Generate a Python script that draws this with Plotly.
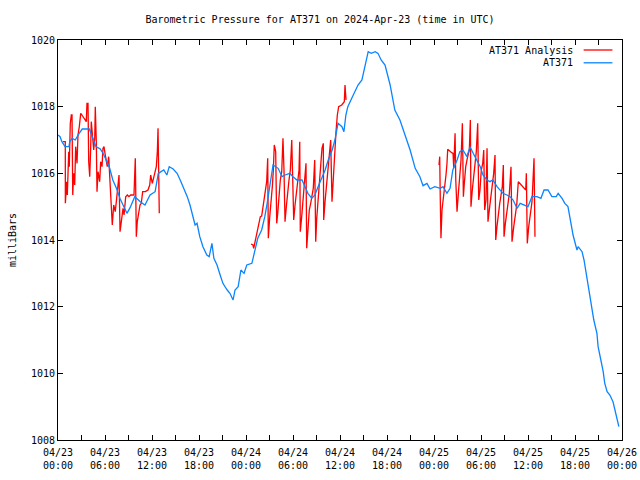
import pandas as pd
import plotly.graph_objects as go

START = "2024-04-23 00:00"
END = "2024-04-26 00:00"
TITLE = "Barometric Pressure for AT371 on 2024-Apr-23 (time in UTC)"
Y_TITLE = "milliBars"
NAME_ANALYSIS = "AT371 Analysis"
NAME_OBS = "AT371"

# Observed pressure (hours since START, mb)
obs_hours = [0.0, 0.26, 0.5, 0.9, 1.4, 1.5, 1.8, 2.2, 2.7, 3.1, 4.0, 4.2, 4.5, 4.85, 5.4,
             5.75, 6.25, 6.6, 7.0, 7.5, 7.9, 8.3, 8.8, 9.2, 9.8, 10.5, 11.1, 11.75, 12.4,
             12.8, 13.5, 13.9, 14.2, 14.7, 15.2, 15.6, 16.0, 16.5, 16.85, 17.2, 17.5,
             17.75, 18.1, 18.5, 19.0, 19.3, 19.65, 19.9, 20.3, 20.7, 21.05, 21.6, 21.95,
             22.35, 22.6, 23.0, 23.35, 23.75, 24.1, 24.75, 25.15, 25.5, 26.0, 26.4, 26.7,
             27.05, 27.45, 28.1, 28.6, 29.0, 29.6, 30.0, 30.5, 31.15, 31.5, 31.9, 32.4,
             32.8, 33.2, 33.7, 34.1, 34.5, 35.0, 35.35, 35.75, 36.25, 36.5, 36.75, 37.0,
             37.5, 37.9, 38.3, 38.8, 39.2, 39.6, 40.0, 40.5, 40.85, 41.25, 41.75, 42.4,
             43.0, 43.65, 44.3, 44.95, 45.6, 46.2, 46.6, 47.1, 47.5, 48.1, 48.8, 49.15,
             49.65, 50.05, 50.4, 50.95, 51.3, 51.7, 52.2, 52.6, 53.0, 53.5, 53.9, 54.25,
             54.75, 55.15, 55.5, 56.05, 56.4, 56.8, 57.3, 57.7, 58.1, 58.6, 59.0, 59.6,
             60.0, 60.5, 61.15, 61.65, 62.05, 62.55, 63.05, 63.6, 63.85, 64.35, 64.7,
             65.1, 65.35, 65.6, 65.75, 66.0, 66.25, 66.4, 66.9, 67.15, 67.4, 67.65, 67.9,
             68.2, 68.4, 68.8, 68.95, 69.3, 69.6, 69.8, 70.1, 70.45, 70.85, 71.1, 71.35,
             71.6]
obs_mb = [1017.15, 1017.1, 1016.95, 1016.8, 1016.8, 1016.95, 1017.05, 1017.0, 1017.2,
          1017.33, 1017.33, 1017.2, 1017.0, 1016.8, 1016.73, 1016.6, 1016.35, 1016.15,
          1015.8, 1015.53, 1015.25, 1015.05, 1014.8, 1014.97, 1015.3, 1015.15, 1015.05,
          1015.35, 1015.45, 1016.0, 1016.1, 1015.95, 1016.2, 1016.13, 1016.0, 1015.8,
          1015.6, 1015.3, 1015.05, 1014.75, 1014.45, 1014.5, 1014.1, 1013.8, 1013.55,
          1013.5, 1013.9, 1013.45, 1013.25, 1012.95, 1012.7, 1012.5, 1012.4, 1012.2,
          1012.5, 1012.6, 1013.1, 1013.0, 1013.25, 1013.3, 1013.7, 1014.05, 1014.3,
          1014.7, 1015.1, 1015.7, 1016.25, 1016.15, 1015.9, 1015.95, 1016.0, 1015.9,
          1015.8, 1015.8, 1015.6, 1015.4, 1015.25, 1015.35, 1015.6, 1015.85, 1016.1,
          1016.4, 1016.7, 1017.0, 1017.5, 1017.4, 1017.25, 1017.75, 1018.0, 1018.25,
          1018.45, 1018.65, 1018.8, 1019.2, 1019.65, 1019.6, 1019.65, 1019.6, 1019.4,
          1019.25, 1018.65, 1017.9, 1017.6, 1017.15, 1016.7, 1016.15, 1015.9, 1015.63,
          1015.7, 1015.53, 1015.6, 1015.55, 1015.6, 1015.4, 1015.55, 1016.1, 1016.4,
          1016.65, 1016.7, 1016.5, 1016.8, 1016.6, 1016.4, 1016.2, 1015.95, 1015.8,
          1015.75, 1015.8, 1015.6, 1015.5, 1015.4, 1015.35, 1015.3, 1015.2, 1014.95,
          1015.1, 1015.05, 1015.0, 1015.3, 1015.3, 1015.25, 1015.5, 1015.5, 1015.3,
          1015.3, 1015.4, 1015.25, 1015.1, 1015.0, 1014.6, 1014.35, 1014.15, 1013.9,
          1013.7, 1013.8, 1013.65, 1013.4, 1013.05, 1012.7, 1012.3, 1011.9, 1011.6,
          1011.2, 1010.8, 1010.4, 1010.05, 1009.7, 1009.45, 1009.35, 1009.15, 1008.9,
          1008.65, 1008.4]

# Analysis pressure, three runs (hours since START, mb)
ana1_hours = [0.64, 0.93, 0.94, 1.11, 1.19, 1.37, 1.44, 1.57, 1.70, 1.79, 1.88, 2.00, 2.13,
              2.26, 2.43, 2.55, 2.72, 2.90, 3.06, 3.41, 3.61, 3.70, 3.83, 3.92, 4.05, 4.17,
              4.25, 4.43, 4.56, 4.69, 4.76, 4.89, 4.98, 5.11, 5.32, 5.45, 5.62, 5.74, 5.87,
              6.0, 6.29, 6.47, 6.68, 6.80, 6.93, 7.11, 7.31, 7.49, 7.66, 7.79, 7.92, 8.08,
              8.30, 8.43, 8.64, 8.85, 9.06, 9.28, 9.70, 9.87, 10.0, 10.12, 10.30, 10.47,
              10.63, 10.81, 11.15, 11.49, 11.71, 11.83, 12.04, 12.26, 12.55, 12.68, 12.77,
              12.93]
ana1_mb = [1016.95, 1016.95, 1015.1, 1015.75, 1015.35, 1016.65, 1016.2, 1017.5, 1017.75,
           1017.75, 1015.35, 1016.0, 1015.65, 1016.8, 1016.3, 1017.15, 1017.4, 1017.8,
           1017.75, 1017.6, 1017.55, 1018.1, 1018.1, 1016.35, 1015.9, 1016.75, 1017.55,
           1017.05, 1016.7, 1017.05, 1018.0, 1016.95, 1015.45, 1016.05, 1015.75, 1016.35,
           1016.2, 1016.75, 1016.8, 1016.6, 1016.2, 1016.5, 1015.7, 1015.1, 1014.45,
           1015.05, 1014.85, 1015.25, 1015.55, 1015.95, 1014.25, 1014.55, 1014.95, 1014.75,
           1015.3, 1015.35, 1015.3, 1015.35, 1015.35, 1016.45, 1014.1, 1014.55, 1014.9,
           1015.05, 1015.1, 1015.45, 1015.45, 1015.5, 1015.65, 1015.95, 1015.7, 1015.95,
           1016.2, 1016.65, 1017.35, 1014.8]
ana2_hours = [24.64, 24.89, 24.98, 25.15, 25.32, 25.49, 25.66, 25.83, 26.0, 26.17, 26.34,
              26.52, 26.64, 26.77, 26.85, 27.03, 27.19, 27.36, 27.49, 27.61, 27.79, 27.92,
              28.05, 28.21, 28.38, 28.56, 28.72, 28.85, 28.98, 29.15, 29.32, 29.49, 29.66,
              29.84, 29.96, 30.09, 30.26, 30.42, 30.60, 30.77, 30.86, 30.93, 31.11, 31.28,
              31.45, 31.66, 31.75, 31.92, 32.08, 32.26, 32.43, 32.59, 32.77, 32.90, 33.03,
              33.19, 33.36, 33.54, 33.70, 33.87, 33.92, 34.09, 34.30, 34.47, 34.64, 34.81,
              34.98, 35.15, 35.32, 35.49, 35.66, 35.83, 36.22, 36.55, 36.64, 36.77]
ana2_mb = [1013.88, 1013.85, 1013.75, 1013.95, 1014.2, 1014.4, 1014.6, 1014.7, 1014.72,
           1015.0, 1015.3, 1015.55, 1015.75, 1016.45, 1014.05, 1014.7, 1015.1, 1015.6,
           1016.1, 1016.85, 1016.65, 1014.5, 1014.8, 1015.35, 1015.8, 1016.05, 1017.05,
           1016.1, 1014.55, 1015.0, 1015.55, 1015.8, 1016.1, 1017.0, 1015.85, 1014.6,
           1015.05, 1015.4, 1015.65, 1016.1, 1016.95, 1014.25, 1014.7, 1015.25, 1015.5,
           1016.3, 1013.75, 1014.35, 1014.9, 1015.1, 1015.4, 1015.55, 1016.4, 1013.95,
           1014.65, 1015.15, 1015.6, 1015.95, 1016.75, 1016.9, 1014.6, 1015.15, 1015.65,
           1016.05, 1016.55, 1017.0, 1015.15, 1015.95, 1016.55, 1017.25, 1017.75, 1018.0,
           1018.05, 1018.15, 1018.65, 1018.2]
ana3_hours = [48.64, 48.73, 48.80, 48.89, 49.02, 49.19, 49.40, 49.53, 49.66, 49.75, 50.26,
              50.43, 50.52, 50.69, 50.78, 50.94, 51.11, 51.29, 51.45, 51.62, 51.75, 51.87,
              52.05, 52.25, 52.51, 52.64, 52.72, 52.89, 53.07, 53.24, 53.40, 53.58, 53.71,
              53.87, 54.04, 54.22, 54.35, 54.47, 54.64, 54.77, 54.89, 55.11, 55.28, 55.44,
              55.62, 55.79, 55.88, 56.04, 56.21, 56.39, 56.56, 56.72, 56.85, 56.94, 57.11,
              57.28, 57.45, 57.62, 57.83, 57.96, 58.18, 58.34, 58.56, 58.76, 59.71, 59.79,
              59.91, 60.09, 60.30, 60.51, 60.77, 60.89]
ana3_mb = [1016.25, 1016.5, 1015.25, 1014.05, 1014.9, 1015.2, 1015.6, 1015.95, 1016.3,
           1016.72, 1016.62, 1016.6, 1016.15, 1017.2, 1015.8, 1014.85, 1015.4, 1015.9,
           1016.4, 1017.5, 1015.3, 1015.7, 1016.2, 1016.45, 1016.7, 1017.6, 1015.0, 1015.5,
           1016.0, 1016.4, 1016.65, 1017.5, 1015.2, 1015.5, 1016.1, 1016.3, 1016.7, 1014.9,
           1015.2, 1016.75, 1014.55, 1015.0, 1015.3, 1015.7, 1016.0, 1016.55, 1014.0,
           1014.4, 1014.8, 1015.1, 1015.35, 1015.6, 1016.25, 1014.1, 1014.5, 1014.8, 1015.1,
           1015.4, 1016.2, 1013.95, 1014.4, 1014.7, 1015.05, 1015.75, 1015.5, 1016.0,
           1013.9, 1014.4, 1014.8, 1015.15, 1016.45, 1014.1]

Y_MIN, Y_MAX, Y_STEP = 1008, 1020, 2

RED = "#ff0000"
BLUE = "#0a84ff"
FONT = "DejaVu Sans Mono"

base = pd.Timestamp(START)


def to_time(hours):
    return list(base + pd.to_timedelta(hours, unit="h"))


ana_x, ana_y = [], []
for hrs, vals in [(ana1_hours, ana1_mb), (ana2_hours, ana2_mb), (ana3_hours, ana3_mb)]:
    ana_x += to_time(hrs) + [None]
    ana_y += vals + [None]

fig = go.Figure()
fig.add_trace(go.Scatter(x=ana_x, y=ana_y, mode="lines", name=NAME_ANALYSIS,
                         line=dict(color=RED, width=1.3), connectgaps=False,
                         hoverinfo="skip", showlegend=False))
fig.add_trace(go.Scatter(x=to_time(obs_hours), y=obs_mb, mode="lines", name=NAME_OBS,
                         line=dict(color=BLUE, width=1.3), hoverinfo="skip",
                         showlegend=False))

# gnuplot-style legend: right-aligned text with line sample on its right
legend_items = [(NAME_ANALYSIS, RED), (NAME_OBS, BLUE)]
for i, (name, color) in enumerate(legend_items):
    yy = 0.975 - i * 0.032
    fig.add_annotation(xref="paper", yref="paper", x=0.917, y=yy, text=name,
                       showarrow=False, xanchor="right", yanchor="middle",
                       font=dict(family=FONT, size=10, color="black"))
    fig.add_shape(type="line", xref="paper", yref="paper", x0=0.932, x1=0.983,
                  y0=yy, y1=yy, line=dict(color=color, width=1.3))

axis_common = dict(showline=True, linecolor="black", linewidth=1, mirror="ticks",
                   ticks="inside", ticklen=5, tickcolor="black", showgrid=False,
                   zeroline=False, automargin=False,
                   tickfont=dict(family=FONT, size=10, color="black"))

fig.update_xaxes(type="date", range=[START, END], tick0=START, dtick=6 * 3600 * 1000,
                 tickformat="%m/%d<br>%H:%M", ticklabelstandoff=3,
                 minor=dict(dtick=3 * 3600 * 1000, ticks="inside", ticklen=5,
                            tickcolor="black", showgrid=False),
                 **axis_common)
fig.update_yaxes(range=[Y_MIN, Y_MAX], dtick=Y_STEP, tick0=Y_MIN,
                 title=dict(text=Y_TITLE, font=dict(family=FONT, size=10, color="black"),
                            standoff=12),
                 **axis_common)

fig.update_layout(
    width=640, height=480,
    margin=dict(l=58, r=18, t=40, b=40, autoexpand=False),
    paper_bgcolor="white", plot_bgcolor="white",
    title=dict(text=TITLE, x=0.5, xanchor="center", y=0.96, yanchor="middle",
               font=dict(family=FONT, size=10, color="black")),
    font=dict(family=FONT, size=10, color="black"),
)

fig.write_html("out.html", config={"displayModeBar": False, "staticPlot": True},
               post_script="document.body.style.margin='0px';"
                           "document.body.style.overflow='hidden';")
